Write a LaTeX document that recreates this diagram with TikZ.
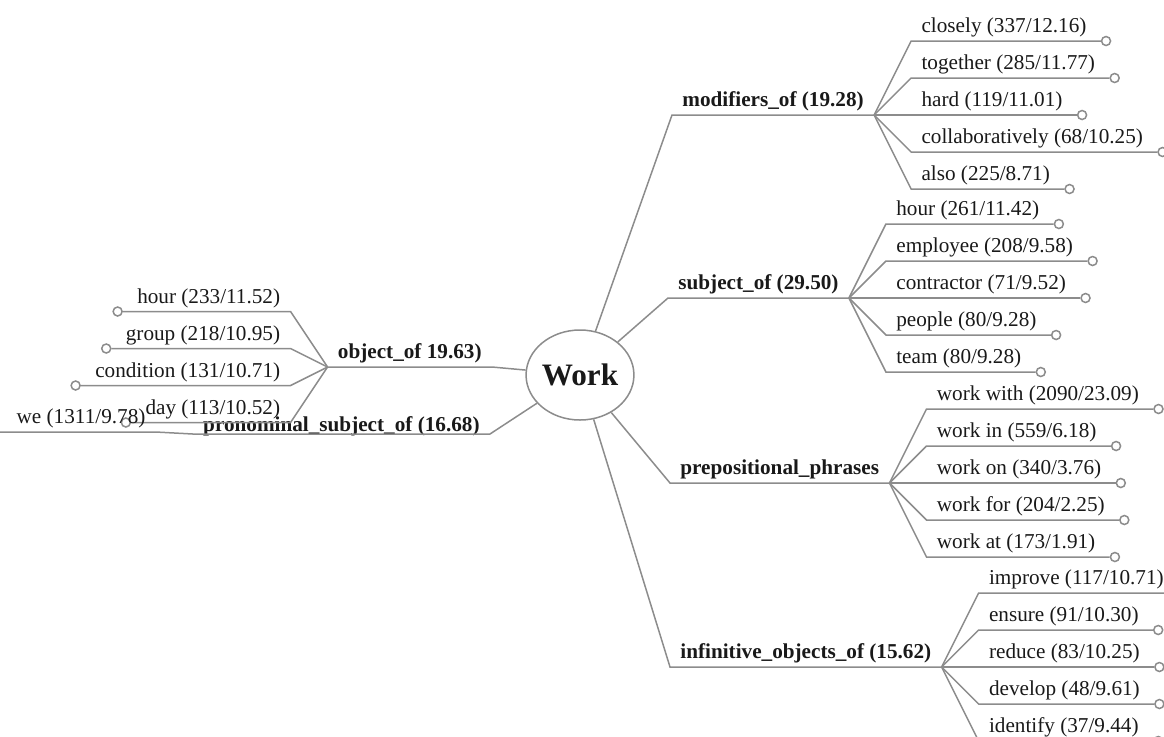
\documentclass[tikz,border=0pt]{standalone}
\usepackage{fontspec}
\setmainfont{Liberation Serif}
\usetikzlibrary{positioning, calc, shapes.geometric}
\definecolor{linkgray}{RGB}{140,140,140}
\definecolor{inkdark}{RGB}{25,25,25}

\begin{document}
\begin{tikzpicture}[x=0.5pt, y=-0.5pt,
link/.style={draw=linkgray, line width=0.75pt},
root/.style={ellipse, draw=linkgray, line width=0.75pt, fill=white, minimum width=53pt, minimum height=45pt, inner sep=0pt, text=inkdark, font=\bfseries\fontsize{15.6}{18}\selectfont},
rel/.style={inner xsep=5pt, inner ysep=4pt, text depth=0pt, text=inkdark, font=\bfseries\fontsize{10.6}{12}\selectfont},
leaf/.style={rel, font=\fontsize{10.6}{12}\selectfont},
dot/.style={circle, draw=linkgray, line width=0.75pt, fill=white, minimum size=4.5pt, inner sep=0pt}]

\useasboundingbox (0,0) rectangle (1164,736);
\clip (0,0) rectangle (1164,736);

% root
\node[root] (work) at (580,375) {Work};

% relations
\node[rel, anchor=south west] (mod) at (672,115) {modifiers\_of (19.28)};
\node[rel, anchor=south west] (subj) at (668,298) {subject\_of (29.50)};
\node[rel, anchor=south west] (prep) at (670,483) {prepositional\_phrases};
\node[rel, anchor=south west] (inf) at (670,667) {infinitive\_objects\_of (15.62)};
\node[rel, anchor=south east] (obj) at (492,367) {object\_of 19.63)};
\node[rel, anchor=south east, inner ysep=1.2pt] (pron) at (490,434) {pronominal\_subject\_of (16.68)};

\foreach \r in {mod,subj,prep,inf}
  \draw[link] (work) -- (\r.south west) -- (\r.south east);
\foreach \r in {obj,pron}
  \draw[link] (work) -- (\r.south east) -- (\r.south west);

% collocates, right side
\foreach \t [count=\i] in {closely (337/12.16), together (285/11.77), hard (119/11.01), collaboratively (68/10.25), also (225/8.71)}
{
  \node[leaf, anchor=south west] (mod\i) at ($(mod.south east)+(37,{(\i-3)*37})$) {\t};
  \node[dot, right=2pt of mod\i.south east] (dmod\i) {};
  \draw[link] (mod.south east) -- (mod\i.south west) -- (dmod\i);
}

\foreach \t [count=\i] in {hour (261/11.42), employee (208/9.58), contractor (71/9.52), people (80/9.28), team (80/9.28)}
{
  \node[leaf, anchor=south west] (subj\i) at ($(subj.south east)+(37,{(\i-3)*37})$) {\t};
  \node[dot, right=2pt of subj\i.south east] (dsubj\i) {};
  \draw[link] (subj.south east) -- (subj\i.south west) -- (dsubj\i);
}

\foreach \t [count=\i] in {work with (2090/23.09), work in (559/6.18), work on (340/3.76), work for (204/2.25), work at (173/1.91)}
{
  \node[leaf, anchor=south west] (prep\i) at ($(prep.south east)+(37,{(\i-3)*37})$) {\t};
  \node[dot, right=2pt of prep\i.south east] (dprep\i) {};
  \draw[link] (prep.south east) -- (prep\i.south west) -- (dprep\i);
}

\foreach \t [count=\i] in {improve (117/10.71), ensure (91/10.30), reduce (83/10.25), develop (48/9.61), identify (37/9.44)}
{
  \node[leaf, anchor=south west] (inf\i) at ($(inf.south east)+(37,{(\i-3)*37})$) {\t};
  \node[dot, right=2pt of inf\i.south east] (dinf\i) {};
  \draw[link] (inf.south east) -- (inf\i.south west) -- (dinf\i);
}

% collocates, left side
\foreach \t [count=\i] in {hour (233/11.52), group (218/10.95), condition (131/10.71), day (113/10.52)}
{
  \node[leaf, anchor=south east] (obj\i) at ($(obj.south west)+(-37,{(\i-2.5)*37})$) {\t};
  \node[dot, left=2pt of obj\i.south west] (dobj\i) {};
  \draw[link] (obj.south west) -- (obj\i.south east) -- (dobj\i);
}

\node[leaf, anchor=south east] (pron1) at ($(pron.south west)+(-37,-2)$) {we (1311/9.78)};
\node[dot, left=5pt of pron1.south west] (dpron1) {};
\draw[link] (pron.south west) -- (pron1.south east) -- (dpron1);
\end{tikzpicture}
\end{document}
